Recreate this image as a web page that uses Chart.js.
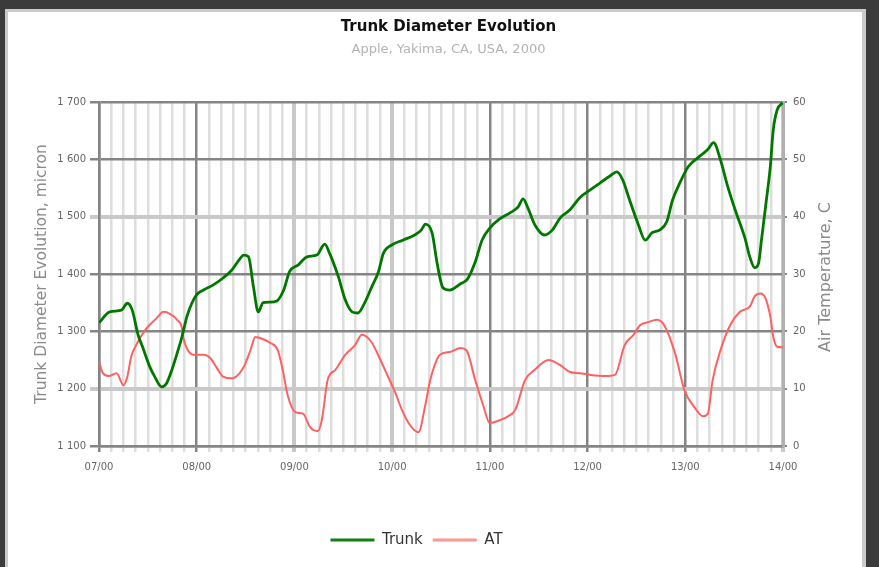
<!DOCTYPE html>
<html>
<head>
<meta charset="utf-8">
<script src="https://cdn.jsdelivr.net/npm/chart.js@4.4.1/dist/chart.umd.min.js"></script>
<style>
html,body{margin:0;padding:0;background:#3b3b3b;overflow:hidden}
canvas{display:block}
</style>
</head>
<body>
<canvas id="c" width="879" height="567"></canvas>
<script>
// x positions are in months from the first label (07/00 = 0)
const xTickLabels = ['07/00','08/00','09/00','10/00','11/00','12/00','13/00','14/00'];

const trunkX = [0,0.11,0.23,0.29,0.34,0.40,0.45,0.52,0.57,0.64,
  0.69,0.74,0.80,0.85,0.90,0.95,1.00,1.07,1.17,1.27,
  1.36,1.44,1.48,1.53,1.58,1.63,1.68,1.75,1.82,1.89,
  1.95,2.04,2.13,2.23,2.31,2.36,2.45,2.52,2.59,2.65,
  2.72,2.79,2.86,2.91,3.00,3.11,3.23,3.30,3.34,3.41,
  3.46,3.52,3.59,3.70,3.77,3.85,3.92,4.00,4.10,4.21,
  4.29,4.34,4.39,4.46,4.56,4.64,4.72,4.82,4.92,5.03,
  5.13,5.23,5.30,5.36,5.43,5.52,5.59,5.66,5.74,5.81,
  5.87,5.95,6.03,6.13,6.23,6.29,6.36,6.43,6.51,6.61,
  6.66,6.71,6.75,6.78,6.83,6.87,6.90,6.94,7.00];
const trunkValues = [1315,1334,1337,1349,1337,1294,1271,1238,1221,1203,
  1209,1230,1262,1291,1326,1349,1364,1372,1381,1393,
  1407,1426,1433,1430,1378,1334,1350,1351,1353,1372,
  1404,1416,1430,1433,1452,1436,1395,1355,1334,1332,
  1350,1377,1404,1436,1451,1459,1468,1477,1487,1471,
  1419,1376,1372,1383,1391,1421,1459,1480,1496,1507,
  1517,1531,1515,1486,1468,1477,1498,1512,1533,1547,
  1559,1571,1578,1564,1529,1486,1459,1472,1477,1491,
  1529,1561,1587,1603,1617,1629,1599,1555,1512,1463,
  1430,1411,1419,1460,1529,1587,1651,1686,1699];

const atX = [0,0.04,0.10,0.18,0.25,0.29,0.33,0.39,0.44,0.50,
  0.59,0.66,0.73,0.80,0.85,0.86,0.90,0.97,1.07,1.14,
  1.20,1.27,1.36,1.44,1.49,1.55,1.60,1.67,1.75,1.83,
  1.88,1.93,2.01,2.09,2.16,2.24,2.28,2.34,2.42,2.52,
  2.62,2.69,2.79,2.88,2.95,3.03,3.10,3.18,3.27,3.34,
  3.39,3.49,3.59,3.70,3.76,3.85,3.93,4.00,4.10,4.19,
  4.26,4.36,4.46,4.60,4.72,4.82,4.92,5.03,5.18,5.28,
  5.38,5.47,5.54,5.62,5.71,5.79,5.90,5.99,6.10,6.18,
  6.23,6.28,6.36,6.46,6.56,6.66,6.71,6.77,6.82,6.87,
  6.90,6.94,7.00];
const atValues = [14.7,12.7,12.2,12.7,10.6,12.1,15.6,17.9,19.4,20.8,
  22.3,23.4,23.0,22.0,20.5,19.1,17.0,15.9,15.9,15.3,
  13.8,12.1,11.8,12.7,14.1,16.7,19.0,18.7,18.0,16.7,
  13.3,8.9,5.9,5.6,3.3,2.6,4.5,11.5,13.3,15.9,
  17.6,19.4,18.1,15.0,12.4,9.4,6.3,3.7,2.4,7.2,
  11.5,15.9,16.4,17.1,16.7,11.5,7.2,4.0,4.5,5.2,
  6.3,11.5,13.3,15.0,14.1,12.9,12.7,12.4,12.2,12.4,
  17.6,19.4,21.1,21.6,22.0,20.9,15.9,9.8,6.6,5.2,
  5.6,11.5,16.7,21.1,23.4,24.3,26.1,26.6,25.8,22.6,
  19.1,17.3,17.2];

const leftMin = 1100, leftMax = 1700, leftStep = 100;
const rightMin = 0, rightMax = 60, rightStep = 10;
const lightLeftTicks = [1500, 1200];
const lightMonthTicks = [2, 3, 7];

const FONT = "'DejaVu Sans', sans-serif";
const DARK = '#858585', LIGHT = '#c9c9c9', MINOR = '#dedede';

const framePlugin = {
  id: 'frame',
  beforeDraw(chart) {
    const c = chart.ctx;
    c.save();
    c.fillStyle = '#3b3b3b'; c.fillRect(0, 0, 879, 567);
    c.fillStyle = '#cbcbcb'; c.fillRect(5, 9, 861, 558);
    c.fillStyle = '#ffffff'; c.fillRect(8, 12, 854, 555);
    c.restore();
  }
};

const rightTitlePlugin = {
  id: 'rightTitle',
  afterDraw(chart) {
    const c = chart.ctx;
    const a = chart.chartArea;
    c.save();
    c.translate(826, (a.top + a.bottom) / 2 + 3);
    c.rotate(-Math.PI / 2);
    c.font = "16px " + FONT;
    c.fillStyle = '#8a8a8a';
    c.textAlign = 'center';
    c.textBaseline = 'middle';
    c.fillText('Air Temperature, C', 0, 0);
    c.restore();
  }
};

const legendShift = {
  id: 'legendShift',
  afterLayout(chart) {
    const L = chart.legend;
    if (L) { L.left -= 32; L.right -= 32; }
  }
};

function fmtThousands(v) {
  const s = String(v);
  return s.length > 3 ? s.slice(0, s.length - 3) + ' ' + s.slice(-3) : s;
}

new Chart(document.getElementById('c'), {
  type: 'line',
  data: {
    datasets: [
      {
        label: 'Trunk',
        data: trunkX.map((x, i) => ({x: x, y: trunkValues[i]})),
        borderColor: '#007800',
        backgroundColor: '#157f15',
        borderWidth: 2.8,
        pointRadius: 0,
        cubicInterpolationMode: 'monotone',
        yAxisID: 'yL'
      },
      {
        label: 'AT',
        data: atX.map((x, i) => ({x: x, y: atValues[i]})),
        borderColor: '#ff6060',
        backgroundColor: '#ff9696',
        borderWidth: 2,
        pointRadius: 0,
        cubicInterpolationMode: 'monotone',
        yAxisID: 'yR'
      }
    ]
  },
  options: {
    responsive: false,
    animation: false,
    events: [],
    layout: {padding: {left: 18, right: 0, top: 12, bottom: 9.5}},
    plugins: {
      title: {
        display: true, text: 'Trunk Diameter Evolution', color: '#111',
        font: {family: FONT, size: 15, weight: 'bold'},
        padding: {top: 6, bottom: 6}
      },
      subtitle: {
        display: true, text: 'Apple, Yakima, CA, USA, 2000', color: '#b3b3b3',
        font: {family: FONT, size: 13},
        padding: {top: 0, bottom: 44.4}
      },
      legend: {
        position: 'bottom',
        labels: {
          boxWidth: 44, boxHeight: 3, padding: 10, color: '#333',
          font: {family: FONT, size: 15},
          generateLabels(chart) {
            return Chart.defaults.plugins.legend.labels.generateLabels(chart)
              .map(l => Object.assign(l, {lineWidth: 0}));
          }
        }
      },
      tooltip: {enabled: false}
    },
    scales: {
      x: {
        type: 'linear', min: 0, max: xTickLabels.length - 1,
        afterBuildTicks(scale) {
          const t = [];
          for (let k = 0; k <= (xTickLabels.length - 1) * 8; k++) t.push({value: k / 8});
          scale.ticks = t;
        },
        afterFit(scale) { scale.height = 76.5; },
        ticks: {
          autoSkip: false, maxRotation: 0, minRotation: 0, padding: 9,
          color: '#666', font: {family: FONT, size: 10},
          callback: v => Number.isInteger(v) ? xTickLabels[v] : ''
        },
        grid: {
          tickLength: 6,
          color: c => {
            const v = c.tick ? c.tick.value : 0;
            if (!Number.isInteger(v)) return MINOR;
            return lightMonthTicks.includes(v) ? LIGHT : DARK;
          },
          lineWidth: c => {
            const v = c.tick ? c.tick.value : 0;
            if (!Number.isInteger(v)) return 2.5;
            return lightMonthTicks.includes(v) ? 4 : 2.5;
          }
        },
        border: {color: DARK, width: 2.5}
      },
      yL: {
        position: 'left', min: leftMin, max: leftMax,
        afterFit(scale) { scale.width = 81; },
        ticks: {
          stepSize: leftStep, padding: 4, color: '#666',
          font: {family: FONT, size: 10},
          callback: v => fmtThousands(v)
        },
        grid: {
          tickLength: 9,
          color: c => (c.tick && lightLeftTicks.includes(c.tick.value)) ? LIGHT : DARK,
          lineWidth: c => (c.tick && lightLeftTicks.includes(c.tick.value)) ? 4 : 2.5
        },
        border: {color: DARK, width: 2.5},
        title: {
          display: true, text: 'Trunk Diameter Evolution, micron', color: '#8a8a8a',
          font: {family: FONT, size: 15.5},
          padding: {top: 14.7, bottom: 0}
        }
      },
      yR: {
        position: 'right', min: rightMin, max: rightMax,
        afterFit(scale) { scale.width = 96; },
        ticks: {
          stepSize: rightStep, padding: 6, color: '#666',
          font: {family: FONT, size: 10}
        },
        grid: {drawOnChartArea: false, tickLength: 4, color: DARK, lineWidth: 2},
        border: {color: '#b0b0b0', width: 3}
      }
    }
  },
  plugins: [framePlugin, rightTitlePlugin, legendShift]
});
</script>
</body>
</html>
